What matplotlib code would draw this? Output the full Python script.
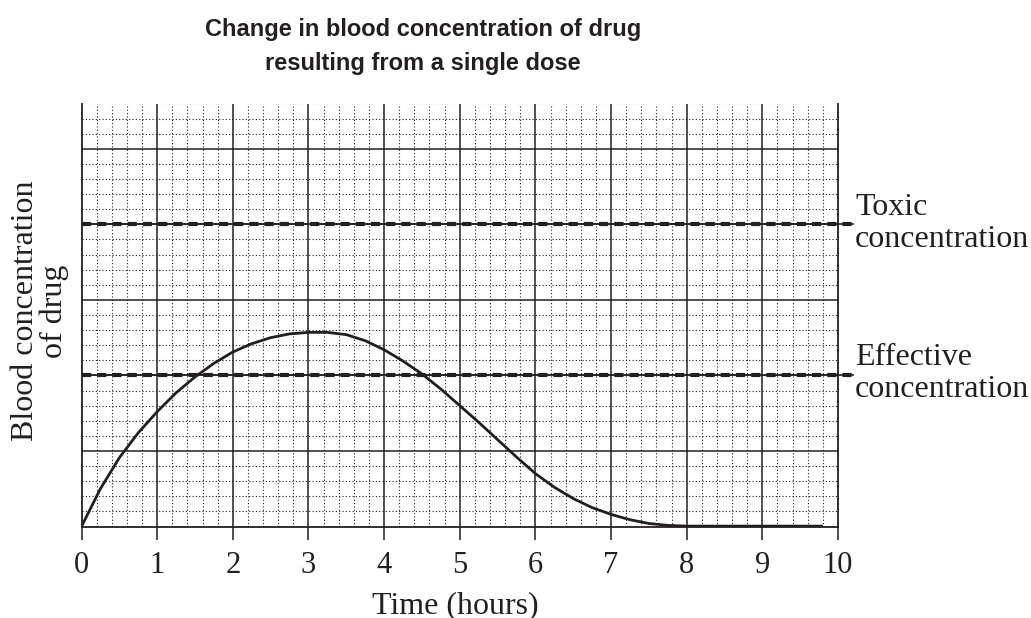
import numpy as np
import matplotlib
matplotlib.use('Agg')
import matplotlib.pyplot as plt

# Curve (time in hours, concentration in grid units)
time_hours = [0, 0.25, 0.5, 0.75, 1.0, 1.25, 1.5, 1.75, 2.0, 2.25, 2.5, 2.75,
              3.0, 3.25, 3.5, 3.75, 4.0, 4.25, 4.5, 4.75, 5.0, 5.25, 5.5, 5.75,
              6.0, 6.25, 6.5, 6.75, 7.0, 7.25, 7.5, 7.75, 8.0, 9.8]
concentration = [0, 0.50, 0.91, 1.24, 1.52, 1.77, 1.98, 2.16, 2.31, 2.42, 2.50, 2.55,
                 2.57, 2.57, 2.54, 2.46, 2.34, 2.19, 2.02, 1.82, 1.60, 1.38, 1.15, 0.92,
                 0.70, 0.52, 0.37, 0.25, 0.16, 0.09, 0.04, 0.015, 0.005, 0.005]

toxic_level = 4.0
effective_level = 2.0
x_ticks = list(range(0, 11))

ink = '#231f20'
serif = 'Liberation Serif'
W, H = 1031, 618


def px(x, y):
    # pixel position (from top-left) -> figure fraction
    return x / W, 1 - y / H


fig = plt.figure(figsize=(W / 100, H / 100), dpi=100)
ax = fig.add_axes([81.5 / W, 91.5 / H, 756.5 / W, 423 / H])
ax.set_xlim(0, 10)
ax.set_ylim(0, 5.6)

# Graph paper grid
for v in np.arange(0, 10.01, 0.2):
    if abs(v - round(v)) > 1e-6:
        ax.axvline(v, color=ink, lw=0.8, ls=(0, (1, 2)), zorder=1)
for v in np.arange(0, 5.61, 0.2):
    if abs(v - round(v)) > 1e-6:
        ax.axhline(v, color=ink, lw=0.8, ls=(0, (1, 2)), zorder=1)
for v in range(1, 10):
    ax.axvline(v, color=ink, lw=1.1, zorder=2)
for v in range(1, 6):
    ax.axhline(v, color=ink, lw=1.1, zorder=2)

# Toxic and effective levels
for lvl in [toxic_level, effective_level]:
    ax.plot([0, 10.2], [lvl, lvl], color=ink, lw=1.2, clip_on=False, zorder=3)
    ax.plot([0, 10.2], [lvl, lvl], color=ink, lw=3.0, clip_on=False, zorder=3,
            dashes=(2.2, 1.45))

ax.plot(time_hours, concentration, color=ink, lw=2.0, zorder=4,
        solid_capstyle='butt', solid_joinstyle='round')

for s in ['left', 'bottom', 'right']:
    ax.spines[s].set_linewidth(1.3)
    ax.spines[s].set_color(ink)
ax.spines['top'].set_visible(False)

ax.set_xticks(x_ticks)
ax.set_xticklabels([str(t) for t in x_ticks], fontfamily=serif, fontsize=22)
ax.tick_params(axis='x', direction='out', length=9.5, width=1.1, color=ink,
               pad=8, labelcolor=ink)
ax.set_yticks([])

# Labels of the two levels, right of the axes (pixel positions from the top)
level_labels = [('Toxic', 215), ('concentration', 247),
                ('Effective', 365), ('concentration', 397)]
for text, ypix in level_labels:
    fig.text(*px(855, ypix), text, fontfamily=serif, fontsize=23, color=ink,
             ha='left', va='baseline')

fig.text(*px(455, 613), 'Time (hours)', fontfamily=serif, fontsize=23,
         color=ink, ha='center', va='baseline')
fig.text(*px(40, 311), 'Blood concentration\nof drug', fontfamily=serif,
         fontsize=23, color=ink, ha='center', va='center', rotation=90,
         multialignment='center', linespacing=1.0)

fig.text(*px(423, 36), 'Change in blood concentration of drug',
         fontfamily='Liberation Sans', fontweight='bold', fontsize=17, color=ink,
         ha='center', va='baseline')
fig.text(*px(423, 70), 'resulting from a single dose',
         fontfamily='Liberation Sans', fontweight='bold', fontsize=17, color=ink,
         ha='center', va='baseline')

fig.savefig('out.png', dpi=100)
